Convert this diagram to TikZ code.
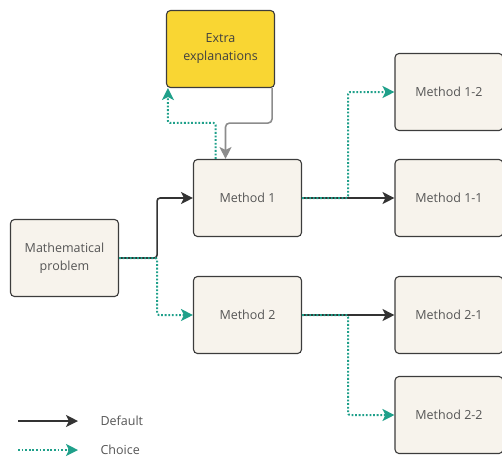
\documentclass[tikz,border=0pt]{standalone}
\usepackage{fontspec}
\setmainfont{Open Sans}
\usetikzlibrary{arrows.meta}
\definecolor{boxfill}{HTML}{F7F3EC}
\definecolor{boxline}{HTML}{3C3C3C}
\definecolor{hilite}{HTML}{F9D633}
\definecolor{choicecol}{HTML}{1FA08A}
\definecolor{txtgrey}{HTML}{555555}

\begin{document}
\begin{tikzpicture}[x=1pt, y=-1pt, font=\fontsize{12.5}{18}\selectfont,
    box/.style={draw=boxline, fill=boxfill, line width=1.1pt, rounded corners=4pt,
      minimum width=108pt, minimum height=77pt, align=center, text=txtgrey},
    dflt/.style={draw=black!80, line width=1.6pt, rounded corners=3pt,
      -{Stealth[length=12pt,width=12pt,inset=3pt]}},
    choice/.style={draw=choicecol, line width=2pt, rounded corners=2pt,
      dash pattern=on 1.8pt off 1.8pt,
      -{Stealth[length=12pt,width=12pt,inset=3pt,sep=0pt]}},
    back/.style={draw=black!45, line width=1.6pt, rounded corners=4pt,
      -{Stealth[length=12pt,width=12pt,inset=3pt]}},
    lbl/.style={anchor=west, text=txtgrey}]
    \useasboundingbox (0,0) rectangle (502,459);
    % boxes
    \node[box, fill=hilite, text=black!75] (ex) at (220.5,49) {Extra\\explanations};
    \node[box] (prob) at (64.5,258) {Mathematical\\problem};
    \node[box] (m1) at (247.5,198) {Method 1};
    \node[box] (m2) at (247.5,315) {Method 2};
    \node[box] (m12) at (449,92) {Method 1-2};
    \node[box] (m11) at (449,198) {Method 1-1};
    \node[box] (m21) at (449,315) {Method 2-1};
    \node[box] (m22) at (449,415) {Method 2-2};
    % default paths
    \draw[dflt] (prob.east) -- ++(38,0) |- (m1.west);
    \draw[dflt] (m1.east) -- (m11.west);
    \draw[dflt] (m2.east) -- (m21.west);
    % choices
    \draw[choice] (prob.east) -- ++(38,0) |- (m2.west);
    \draw[choice] (m1.east) -- ++(46,0) |- (m12.west);
    \draw[choice] (m2.east) -- ++(46,0) |- (m22.west);
    \draw[choice] ([xshift=-32pt]m1.north) -- ++(0,-36) -| ([xshift=2pt]ex.south west);
    \draw[back] ([xshift=-3pt]ex.south east) -- ++(0,35) -| ([xshift=-22pt]m1.north);
    % legend
    \coordinate (d0) at (18,421);
    \coordinate (d1) at (78,421);
    \coordinate (c0) at (18,450);
    \coordinate (c1) at (78,450);
    \draw[dflt] (d0) -- (d1);
    \draw[choice] (c0) -- (c1);
    \node[lbl] (ldef) at (97,421) {Default};
    \node[lbl] (lch) at (97,450) {Choice};
\end{tikzpicture}
\end{document}
